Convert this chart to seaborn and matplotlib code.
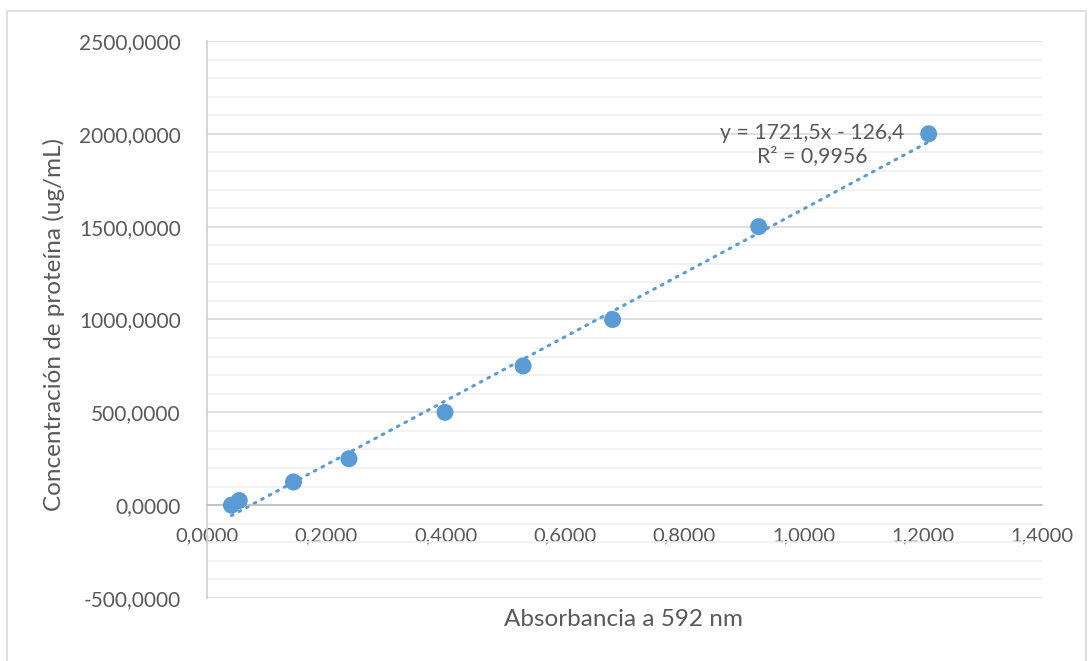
import numpy as np
import pandas as pd
import seaborn as sns
import matplotlib.pyplot as plt
from matplotlib.ticker import MultipleLocator, FuncFormatter
from matplotlib.patches import Rectangle

# datos
absorbancia = [0.041, 0.054, 0.145, 0.238, 0.399, 0.530, 0.680, 0.925, 1.210]
concentracion = [0, 25, 125, 250, 500, 750, 1000, 1500, 2000]
pendiente = 1721.5
intercepto = -126.4
ecuacion = "y = 1721,5x - 126,4\nR² = 0,9956"

df = pd.DataFrame({"x": absorbancia, "y": concentracion})
xs = np.array([min(absorbancia), max(absorbancia)])
trend = pd.DataFrame({"x": xs, "y": pendiente * xs + intercepto})

sns.set_style("white")
plt.rcParams["font.family"] = ["Lato", "DejaVu Sans"]
gris = "#595959"
azul = "#5B9BD5"

fig = plt.figure(figsize=(10.92, 6.61), dpi=100)
ax = fig.add_axes([207 / 1092, 1 - 598 / 661, 835 / 1092, 557 / 661])

sns.lineplot(data=trend, x="x", y="y", ax=ax, color=azul, lw=2.2,
             linestyle=(0, (0.6, 2.2)), dash_capstyle="round", zorder=2)
sns.scatterplot(data=df, x="x", y="y", ax=ax, color=azul, s=150,
                edgecolor="none", zorder=3)

ax.set_xlim(0, 1.4)
ax.set_ylim(-500, 2500)
ax.xaxis.set_major_locator(MultipleLocator(0.2))
ax.yaxis.set_major_locator(MultipleLocator(500))
ax.yaxis.set_minor_locator(MultipleLocator(100))
coma = lambda v, p: f"{v:.4f}".replace(".", ",")
ax.xaxis.set_major_formatter(FuncFormatter(coma))
ax.yaxis.set_major_formatter(FuncFormatter(coma))

ax.grid(axis="y", which="major", color="#d9d9d9", lw=1.2)
ax.grid(axis="y", which="minor", color="#f0f0f0", lw=1.2)
ax.set_axisbelow(True)

for s in ["top", "right"]:
    ax.spines[s].set_visible(False)
ax.spines["bottom"].set_position(("data", 0))
ax.spines["bottom"].set_color("#bfbfbf")
ax.spines["bottom"].set_linewidth(1.2)
ax.spines["left"].set_color("#d0d0d0")
ax.spines["left"].set_linewidth(1.2)
ax.tick_params(axis="both", which="major", length=5, width=1.2,
               color="#bfbfbf", labelcolor=gris)
ax.tick_params(axis="y", which="minor", length=0)
ax.tick_params(axis="y", pad=14, labelsize=15)
ax.tick_params(axis="x", pad=11, labelsize=14.5)
for lab in ax.get_xticklabels():
    lab.set_bbox(dict(facecolor="white", edgecolor="none", pad=1))

ax.set_xlabel("")
ax.set_ylabel("Concentración de proteína (ug/mL)", fontsize=17.5, color=gris)
ax.yaxis.set_label_coords(-0.170, 0.491)
fig.text(623 / 1092, 1 - 620 / 661, "Absorbancia a 592 nm", ha="center", va="center",
         fontsize=17.5, color=gris)

ax.text(1.014, 1940, ecuacion, ha="center", va="center", multialignment="center",
        fontsize=15.3, color=gris, linespacing=1.2)

fig.patches.append(Rectangle((7 / 1092, -0.01), 1079 / 1092, 1 - 11 / 661 + 0.01,
                             transform=fig.transFigure, fill=False,
                             edgecolor="#d9d9d9", lw=1.2))

fig.savefig("out.png", dpi=100)
